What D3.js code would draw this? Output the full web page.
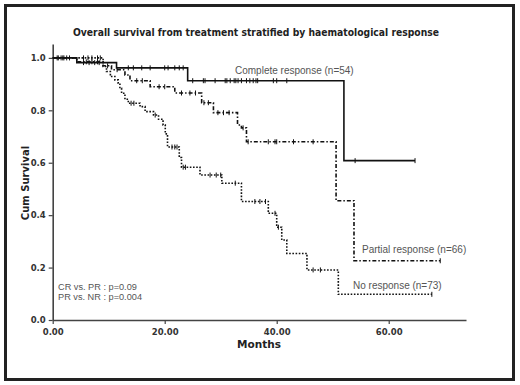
<!DOCTYPE html>
<html><head><meta charset="utf-8">
<script src="https://cdn.jsdelivr.net/npm/d3@7"></script>
<style>body{margin:0;background:#fff}svg{display:block}</style>
</head><body><svg id="c" width="520" height="385"></svg>
<script>
const titleText = "Overall survival from treatment stratified by haematological response";
const xLabel = "Months";
const yLabel = "Cum Survival";
const xTicks = [0, 20, 40, 60];
const yTicks = [0, 0.2, 0.4, 0.6, 0.8, 1.0];
const pLines = ["CR vs. PR : p=0.09", "PR vs. NR : p=0.004"];

// Complete response
const crName = "Complete response (n=54)";
const crTimes = [0, 4.3, 11.4, 24.1, 52.0];
const crSurv  = [1.0, 0.982, 0.962, 0.913, 0.608];
const crEnd = 64.7;
const crCensor = [1, 2, 3, 5.5, 6.5, 7.5, 8.3, 13.5, 14.4, 15.9, 17.4, 20, 20.6, 21.8, 22.6, 23.3,
  25, 26.9, 27.2, 29.0, 30.8, 31.1, 31.7, 32.4, 32.7, 33.1, 33.7, 34.6, 35.2, 35.8, 36.3, 36.6, 39.4, 40.0, 41.8, 54, 64.7];

// Partial response
const prName = "Partial response (n=66)";
const prTimes = [0, 4.3, 9.0, 10.5, 12.9, 13.8, 17.4, 21.8, 26.6, 28.7, 33.0, 33.7, 34.6, 50.6, 53.8];
const prSurv  = [1.0, 0.985, 0.97, 0.955, 0.935, 0.913, 0.89, 0.866, 0.829, 0.791, 0.744, 0.733, 0.68, 0.455, 0.226];
const prEnd = 69.2;
const prCensor = [1.5, 2.5, 6, 7, 8, 9.8, 11.5, 15, 16, 19, 20, 23, 24.5, 25.5, 27, 27.8, 29.5, 30.5, 31.5, 34,
  34.9, 38.5, 39.7, 40, 43, 46.5, 69.2];

// No response
const nrName = "No response (n=73)";
const nrTimes = [0, 9.0, 9.6, 10.3, 11.1, 11.7, 12.0, 12.3, 12.9, 13.5, 15.6, 16.5, 18.0, 18.9, 19.7, 20.1, 20.5, 22.6, 23.0, 26.3, 30.2, 33.7, 38.5, 40.0, 40.9, 41.8, 45.4, 51.0];
const nrSurv  = [1.0, 0.967, 0.948, 0.929, 0.916, 0.903, 0.884, 0.865, 0.842, 0.827, 0.814, 0.795, 0.782, 0.766, 0.744, 0.71, 0.66, 0.62, 0.583, 0.553, 0.522, 0.452, 0.407, 0.354, 0.305, 0.254, 0.191, 0.098];
const nrEnd = 67.7;
const nrCensor = [0.8, 1.8, 5.5, 6.3, 7, 8, 8.5, 14, 14.5, 18.3, 21.3, 21.8, 22.2, 23.3, 23.7, 28.1, 29.2, 30, 32.6, 36.1, 37, 38, 39.7, 40.3, 46.5, 47.8, 67.7];

const svg = d3.select("#c");
svg.append("rect").attr("x", 5.5).attr("y", 5.5).attr("width", 508).attr("height", 374)
  .attr("fill", "#fff").attr("stroke", "#222").attr("stroke-width", 3);

const x = d3.scaleLinear().domain([0, 73.8]).range([52.7, 466]);
const y = d3.scaleLinear().domain([0, 1.053]).range([320, 44]);

svg.append("text").attr("x", 256).attr("y", 36).attr("text-anchor", "middle")
  .attr("font-family", "DejaVu Sans").attr("font-weight", "bold").attr("font-size", 10.5)
  .attr("textLength", 366).attr("lengthAdjust", "spacingAndGlyphs").attr("fill", "#222").text(titleText);

const ax = svg.append("g").attr("transform", "translate(0,320)")
  .call(d3.axisBottom(x).tickValues(xTicks).tickFormat(d3.format(".2f")).tickSize(4).tickSizeOuter(0));
const ay = svg.append("g").attr("transform", "translate(52.7,0)")
  .call(d3.axisLeft(y).tickValues(yTicks).tickFormat(d3.format(".1f")).tickSize(4).tickSizeOuter(0));
[ax, ay].forEach(g => {
  g.select(".domain").attr("stroke", "#444").attr("stroke-width", 1.6);
  g.selectAll(".tick line").attr("stroke", "#444").attr("stroke-width", 1.2);
  g.selectAll(".tick text").attr("font-family", "DejaVu Sans").attr("font-weight", "bold")
    .attr("font-size", 8.5).attr("fill", "#333");
});
ax.selectAll(".tick text").attr("dy", "0.9em");

svg.append("text").attr("x", 259).attr("y", 348).attr("text-anchor", "middle")
  .attr("font-family", "DejaVu Sans").attr("font-weight", "bold").attr("font-size", 10.5).attr("fill", "#222").text(xLabel);
svg.append("text").attr("transform", "translate(29,183) rotate(-90)").attr("text-anchor", "middle")
  .attr("font-family", "DejaVu Sans").attr("font-weight", "bold").attr("font-size", 10).attr("fill", "#222").text(yLabel);

function stepPts(times, surv, end) {
  const pts = times.map((t, i) => [t, surv[i]]);
  pts.push([end, surv[surv.length - 1]]);
  return pts;
}
function survAt(times, surv, t) {
  let s = surv[0];
  for (let i = 0; i < times.length; i++) if (times[i] <= t) s = surv[i];
  return s;
}
const line = d3.line().x(d => x(d[0])).y(d => y(d[1])).curve(d3.curveStepAfter);

const series = [
  {times: crTimes, surv: crSurv, end: crEnd, cens: crCensor, dash: null},
  {times: prTimes, surv: prSurv, end: prEnd, cens: prCensor, dash: "4,2,1.5,2"},
  {times: nrTimes, surv: nrSurv, end: nrEnd, cens: nrCensor, dash: "1.6,1.6"}
];
series.forEach(s => {
  svg.append("path").datum(stepPts(s.times, s.surv, s.end)).attr("d", line)
    .attr("fill", "none").attr("stroke", "#111").attr("stroke-width", 1.6)
    .attr("stroke-dasharray", s.dash);
  svg.append("g").selectAll("line").data(s.cens).join("line")
    .attr("x1", d => x(d)).attr("x2", d => x(d))
    .attr("y1", d => y(survAt(s.times, s.surv, d)) - 2.5)
    .attr("y2", d => y(survAt(s.times, s.surv, d)) + 2.5)
    .attr("stroke", "#111").attr("stroke-width", 1);
});

const lab = (t, xx, yy, fs) => svg.append("text").attr("x", xx).attr("y", yy)
  .attr("font-family", "Liberation Sans").attr("font-size", fs || 10).attr("fill", "#555").text(t);
lab(crName, 235, 74);
lab(prName, 362, 252.5);
lab(nrName, 353, 288.5);
lab(pLines[0], 58, 289.5, 9.2);
lab(pLines[1], 58, 300, 9.2);
</script></body></html>
